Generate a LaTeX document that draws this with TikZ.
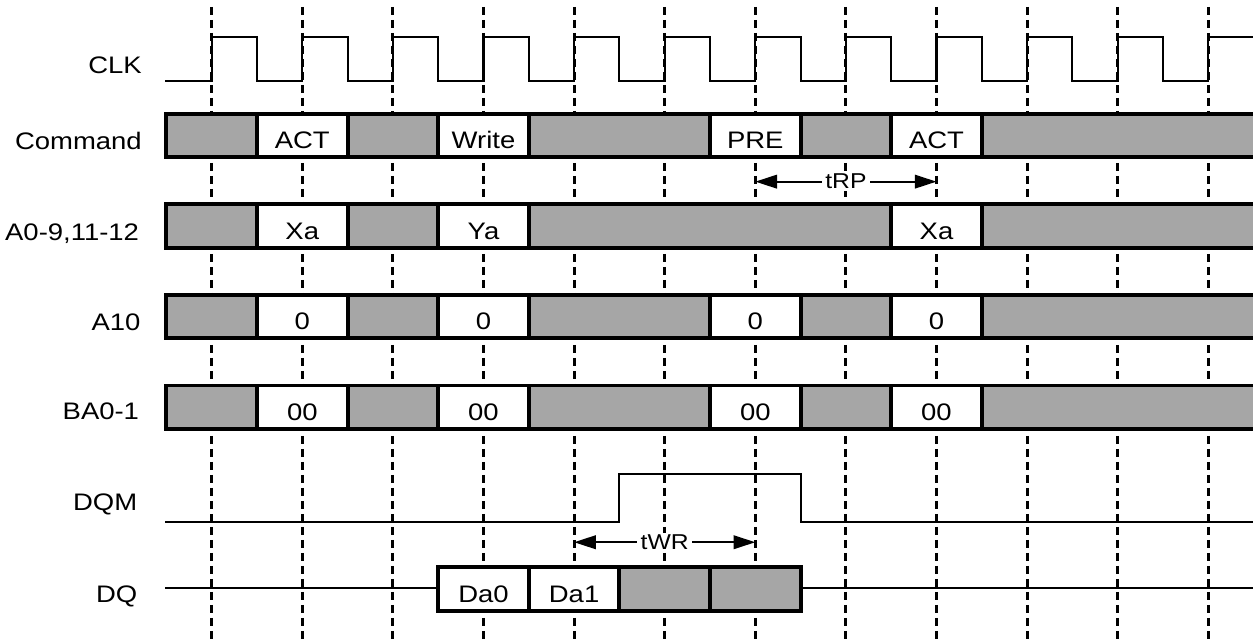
\documentclass[tikz,border=0pt]{standalone}
\usepackage{fontspec}
\setmainfont{Liberation Sans}[FakeStretch=1.15]
\usetikzlibrary{arrows.meta}
\tikzset{gridline/.style={line width=1.9pt, dash pattern=on 0.177cm off 0.11cm},
         wave/.style={line width=1.3pt},
         bus/.style={draw, line width=2.4pt, fill=white, minimum width=2cm, minimum height=0.96cm, inner sep=0pt, text height=0.58cm, text depth=0cm},
         idle/.style={bus, fill=black!35},
         signame/.style={anchor=base east},
         span/.style={{Triangle[length=4.8mm,width=3mm]}-{Triangle[length=4.8mm,width=3mm]}, line width=1.2pt},
         spanlbl/.style={fill=white, inner xsep=2pt, inner ysep=1pt, font=\fontsize{13.5}{15}\selectfont},
        }

\begin{document}
\begin{tikzpicture}[font=\fontsize{15}{17}\selectfont]
        \useasboundingbox (-4.673,0) rectangle (22.987,-14.15);

        \draw[gridline](0,-0.15)--(0,-14.2);
        \draw[gridline](2,-0.15)--(2,-14.2);
        \draw[gridline](4,-0.15)--(4,-14.2);
        \draw[gridline](6,-0.15)--(6,-14.2);
        \draw[gridline](8,-0.15)--(8,-14.2);
        \draw[gridline](10,-0.15)--(10,-14.2);
        \draw[gridline](12,-0.15)--(12,-14.2);
        \draw[gridline](14,-0.15)--(14,-14.2);
        \draw[gridline](16,-0.15)--(16,-14.2);
        \draw[gridline](18,-0.15)--(18,-14.2);
        \draw[gridline](20,-0.15)--(20,-14.2);
        \draw[gridline](22,-0.15)--(22,-14.2);

        \node[signame](clk)at(-1.42,-1.62){CLK};
        \node[signame](cmd)at(-1.42,-3.30){Command};
        \node[signame](addr)at(-1.48,-5.31){A0-9,11-12};
        \node[signame](a10)at(-1.45,-7.29){A10};
        \node[signame](ba)at(-1.48,-9.27){BA0-1};
        \node[signame](dqm)at(-1.52,-11.27){DQM};
        \node[signame](dq)at(-1.52,-13.29){DQ};

        \draw[wave](-1.03,-1.78) -| (0,-0.81) -| (1,-1.78) -| (2,-0.81) -| (3,-1.78)
            -| (4,-0.81) -| (5,-1.78) -| (6,-0.81) -| (7,-1.78) -| (8,-0.81)
            -| (9,-1.78) -| (10,-0.81) -| (11,-1.78) -| (12,-0.81) -| (13,-1.78)
            -| (14,-0.81) -| (15,-1.78) -| (16,-0.81) -| (17,-1.78) -| (18,-0.81)
            -| (19,-1.78) -| (20,-0.81) -| (21,-1.78) -| (22,-0.81) -- (23.1,-0.81);

        \node[idle](c1)at(0,-2.99){};
        \node[bus](c2)at(2,-2.99){ACT};
        \node[idle](c3)at(4,-2.99){};
        \node[bus](c4)at(6,-2.99){Write};
        \node[idle,minimum width=4cm](c5)at(9,-2.99){};
        \node[bus](c6)at(12,-2.99){PRE};
        \node[idle](c7)at(14,-2.99){};
        \node[bus](c8)at(16,-2.99){ACT};
        \node[idle,minimum width=6.2cm](c9)at(20.1,-2.99){};

        \node[idle](a1)at(0,-4.99){};
        \node[bus](a2)at(2,-4.99){Xa};
        \node[idle](a3)at(4,-4.99){};
        \node[bus](a4)at(6,-4.99){Ya};
        \node[idle,minimum width=8cm](a5)at(11,-4.99){};
        \node[bus](a6)at(16,-4.99){Xa};
        \node[idle,minimum width=6.2cm](a7)at(20.1,-4.99){};

        \node[idle](p1)at(0,-6.99){};
        \node[bus](p2)at(2,-6.99){0};
        \node[idle](p3)at(4,-6.99){};
        \node[bus](p4)at(6,-6.99){0};
        \node[idle,minimum width=4cm](p5)at(9,-6.99){};
        \node[bus](p6)at(12,-6.99){0};
        \node[idle](p7)at(14,-6.99){};
        \node[bus](p8)at(16,-6.99){0};
        \node[idle,minimum width=6.2cm](p9)at(20.1,-6.99){};

        \node[idle](b1)at(0,-8.99){};
        \node[bus](b2)at(2,-8.99){00};
        \node[idle](b3)at(4,-8.99){};
        \node[bus](b4)at(6,-8.99){00};
        \node[idle,minimum width=4cm](b5)at(9,-8.99){};
        \node[bus](b6)at(12,-8.99){00};
        \node[idle](b7)at(14,-8.99){};
        \node[bus](b8)at(16,-8.99){00};
        \node[idle,minimum width=6.2cm](b9)at(20.1,-8.99){};

        \draw[wave](-1.03,-11.52) -| (9,-10.47) -| (13,-11.52) -- (23.1,-11.52);

        \draw[wave](-1.03,-12.97)--(23.1,-12.97);
        \node[bus](d1)at(6,-13){Da0};
        \node[bus](d2)at(8,-13){Da1};
        \node[idle](d3)at(10,-13){};
        \node[idle](d4)at(12,-13){};

        \coordinate(rp1)at(12,-4.01);
        \coordinate(rp2)at(16,-4.01);
        \coordinate(wr1)at(8,-11.97);
        \coordinate(wr2)at(12,-11.97);
        \draw[span](rp1)--(rp2) node[spanlbl,midway](trp){tRP};
        \draw[span](wr1)--(wr2) node[spanlbl,midway](twr){tWR};
    \end{tikzpicture}
\end{document}
